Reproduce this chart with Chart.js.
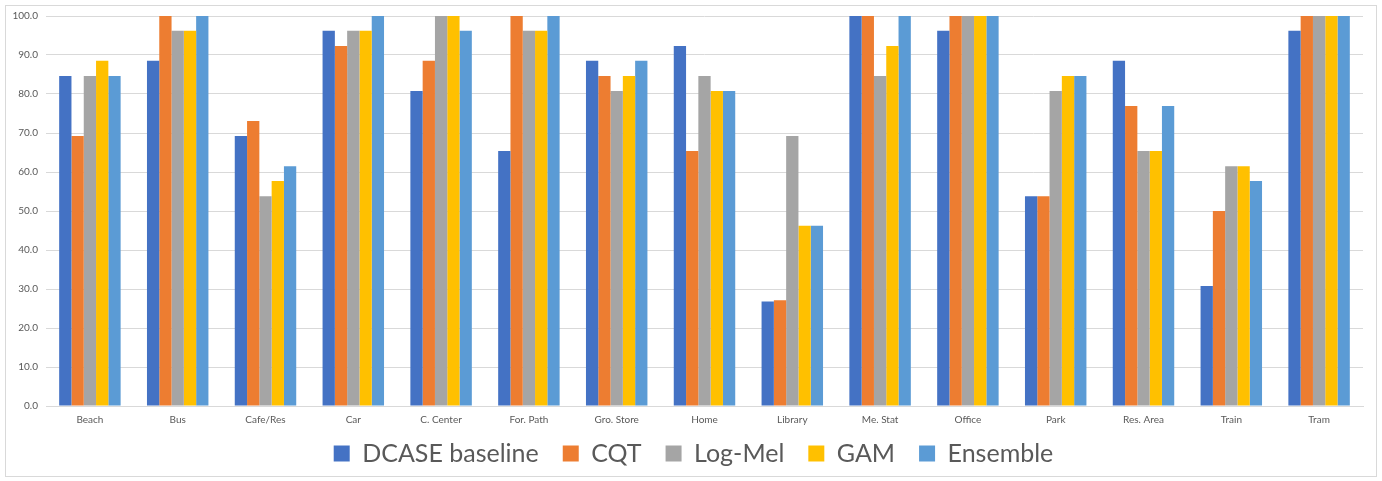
<!DOCTYPE html>
<html>
<head>
<meta charset="utf-8">
<script src="https://cdn.jsdelivr.net/npm/chart.js@4/dist/chart.umd.min.js"></script>
<style>
  html, body { margin: 0; padding: 0; background: #fff; }
  #wrap { position: absolute; left: 5px; top: 5px; width: 1372px; height: 472px; border: 1px solid #d9d9d9; box-sizing: border-box; }
  #c { position: absolute; left: 0; top: 0; }
</style>
</head>
<body>
<div id="wrap"></div>
<canvas id="c" width="1382" height="481"></canvas>
<script>
const categories = ["Beach", "Bus", "Cafe/Res", "Car", "C. Center", "For. Path", "Gro. Store", "Home", "Library", "Me. Stat", "Office", "Park", "Res. Area", "Train", "Tram"];
const dcaseBaseline = [84.6, 88.5, 69.2, 96.2, 80.8, 65.4, 88.5, 92.3, 26.8, 100, 96.2, 53.8, 88.5, 30.8, 96.2];
const cqt           = [69.2, 100, 73.1, 92.3, 88.5, 100, 84.6, 65.4, 27.1, 100, 100, 53.8, 76.9, 50.0, 100];
const logMel        = [84.6, 96.2, 53.8, 96.2, 100, 96.2, 80.8, 84.6, 69.2, 84.6, 100, 80.8, 65.4, 61.5, 100];
const gam           = [88.5, 96.2, 57.7, 96.2, 100, 96.2, 84.6, 80.8, 46.2, 92.3, 100, 84.6, 65.4, 61.5, 100];
const ensemble      = [84.6, 100, 61.5, 100, 96.2, 100, 88.5, 80.8, 46.2, 100, 100, 84.6, 76.9, 57.7, 100];
const yTicks = [0, 10, 20, 30, 40, 50, 60, 70, 80, 90, 100];

const seriesNames = ["DCASE baseline", "CQT", "Log-Mel", "GAM", "Ensemble"];
const seriesData = [dcaseBaseline, cqt, logMel, gam, ensemble];
const colors = ["#4472C4", "#ED7D31", "#A5A5A5", "#FFC000", "#5B9BD5"];

const legendShift = {
  id: "legendShift",
  afterLayout(chart) {
    const lg = chart.legend;
    if (!lg) return;
    lg.top -= 10; lg.bottom -= 10;
    lg.left += 9; lg.right += 9;
  }
};

new Chart(document.getElementById("c"), {
  type: "bar",
  data: {
    labels: categories,
    datasets: seriesNames.map((n, i) => ({
      label: n,
      data: seriesData[i],
      backgroundColor: colors[i],
      borderWidth: 0,
      categoryPercentage: 0.7,
      barPercentage: 1.0
    }))
  },
  plugins: [legendShift],
  options: {
    responsive: false,
    animation: false,
    devicePixelRatio: 1,
    layout: { padding: { left: 6, right: 19, top: 16, bottom: 5 } },
    plugins: {
      legend: {
        position: "bottom",
        maxHeight: 49,
        labels: {
          font: { family: "Lato", size: 25 },
          color: "#595959",
          boxWidth: 16,
          boxHeight: 16,
          padding: 24
        }
      },
      tooltip: { enabled: false }
    },
    scales: {
      x: {
        grid: { display: false, drawTicks: false },
        border: { color: "#d9d9d9" },
        afterFit: (s) => { s.height = 21; },
        ticks: { font: { family: "Lato", size: 10 }, color: "#595959", padding: 8, maxRotation: 0 }
      },
      y: {
        min: 0, max: 100,
        afterBuildTicks: (s) => { s.ticks = yTicks.map(v => ({ value: v })); },
        afterFit: (s) => { s.width = 40; },
        grid: { color: "#d9d9d9", drawTicks: false },
        border: { display: false },
        ticks: {
          font: { family: "Lato", size: 10 }, color: "#595959", padding: 8,
          callback: (v) => Number(v).toFixed(1)
        }
      }
    }
  }
});
</script>
</body>
</html>
